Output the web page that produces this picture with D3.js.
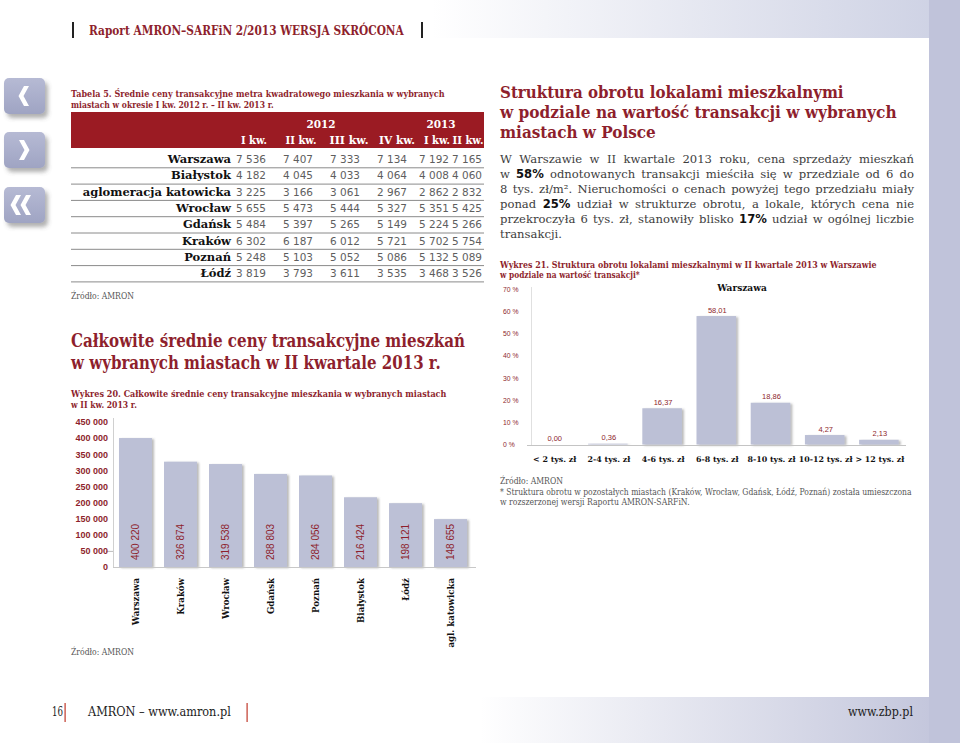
<!DOCTYPE html>
<html><head><meta charset="utf-8">
<script src="https://cdn.jsdelivr.net/npm/d3@7"></script>
<style>html,body{margin:0;padding:0;background:#fff;}svg{display:block;}</style>
</head><body>
<svg id="page" width="960" height="743"></svg>
<script>
// ---------- DATA ----------
const headerTitle = "Raport AMRON–SARFiN 2/2013 WERSJA SKRÓCONA";
const tableTitle = ["Tabela 5. Średnie ceny transakcyjne metra kwadratowego mieszkania w wybranych",
                    "miastach w okresie I kw. 2012 r. – II kw. 2013 r."];
const tableYears = ["2012", "2013"];
const tableQuarters = ["I kw.", "II kw.", "III kw.", "IV kw.", "I kw.", "II kw."];
const tableCities = ["Warszawa", "Białystok", "aglomeracja katowicka", "Wrocław", "Gdańsk", "Kraków", "Poznań", "Łódź"];
const q1_2012 = [7536, 4182, 3225, 5655, 5484, 6302, 5248, 3819];
const q2_2012 = [7407, 4045, 3166, 5473, 5397, 6187, 5103, 3793];
const q3_2012 = [7333, 4033, 3061, 5444, 5265, 6012, 5052, 3611];
const q4_2012 = [7134, 4064, 2967, 5327, 5149, 5721, 5086, 3535];
const q1_2013 = [7192, 4008, 2862, 5351, 5224, 5702, 5132, 3468];
const q2_2013 = [7165, 4060, 2832, 5425, 5266, 5754, 5089, 3526];

const sectionTitle = ["Całkowite średnie ceny transakcyjne mieszkań", "w wybranych miastach w II kwartale 2013 r."];
const chart20Title = ["Wykres 20. Całkowite średnie ceny transakcyjne mieszkania w wybranych miastach", "w II kw. 2013 r."];
const cities20 = ["Warszawa", "Kraków", "Wrocław", "Gdańsk", "Poznań", "Białystok", "Łódź", "agl. katowicka"];
const prices20 = [400220, 326874, 319538, 288803, 284056, 216424, 198121, 148655];
const yTicks20 = [0, 50000, 100000, 150000, 200000, 250000, 300000, 350000, 400000, 450000];

const rightTitle = ["Struktura obrotu lokalami mieszkalnymi", "w podziale na wartość transakcji w wybranych", "miastach w Polsce"];
const paraLines = [
  [["W Warszawie w II kwartale 2013 roku, cena sprzedaży mieszkań", 0]],
  [["w ", 0], ["58%", 1], [" odnotowanych transakcji mieściła się w przedziale od 6 do", 0]],
  [["8 tys. zł/m². Nieruchomości o cenach powyżej tego przedziału miały", 0]],
  [["ponad ", 0], ["25%", 1], [" udział w strukturze obrotu, a lokale, których cena nie", 0]],
  [["przekroczyła 6 tys. zł, stanowiły blisko ", 0], ["17%", 1], [" udział w ogólnej liczbie", 0]],
  [["transakcji.", 0]]
];
const chart21Title = ["Wykres 21. Struktura obrotu lokalami mieszkalnymi w II kwartale 2013 w Warszawie", "w podziale na wartość transakcji*"];
const chart21Series = "Warszawa";
const ranges21 = ["< 2 tys. zł", "2-4 tys. zł", "4-6 tys. zł", "6-8 tys. zł", "8-10 tys. zł", "10-12 tys. zł", "> 12 tys. zł"];
const shares21 = [0.00, 0.36, 16.37, 58.01, 18.86, 4.27, 2.13];
const yTicks21 = [0, 10, 20, 30, 40, 50, 60, 70];
const sourceText = "Źródło: AMRON";
const notes21 = ["* Struktura obrotu w pozostałych miastach (Kraków, Wrocław, Gdańsk, Łódź, Poznań) została umieszczona",
                 "w rozszerzonej wersji Raportu AMRON-SARFiN."];
const footer = ["16", "AMRON – www.amron.pl", "www.zbp.pl"];

// ---------- STYLE ----------
const SERIF = "'DejaVu Serif', serif";
const SANS = "'Liberation Sans', Arial, sans-serif";
const DSANS = "'DejaVu Sans', sans-serif";
const RED = "#8e1f2d";
const BAND = "#9b1b23";
const BAR = "#bcc0d6";
const LAV = "#c0c3da";
const pl = d3.formatLocale({decimal: ",", thousands: " ", grouping: [3], currency: ["", ""]});
const fmtInt = pl.format(",d");
const fmtDec = pl.format(",.2f");

const svg = d3.select("#page");
const defs = svg.append("defs");

const gTop = defs.append("linearGradient").attr("id", "gTop").attr("x1", 0).attr("x2", 1).attr("y1", 0).attr("y2", 0);
gTop.append("stop").attr("offset", "0.45").attr("stop-color", "#ffffff");
gTop.append("stop").attr("offset", "1").attr("stop-color", "#ccd0e3");
const gBot = defs.append("linearGradient").attr("id", "gBot").attr("x1", 0).attr("x2", 1).attr("y1", 0).attr("y2", 0);
gBot.append("stop").attr("offset", "0.5").attr("stop-color", "#ffffff");
gBot.append("stop").attr("offset", "1").attr("stop-color", LAV);
const gBtn = defs.append("linearGradient").attr("id", "gBtn").attr("x1", 0).attr("x2", 0).attr("y1", 0).attr("y2", 1);
gBtn.append("stop").attr("offset", "0").attr("stop-color", "#b6bad4");
gBtn.append("stop").attr("offset", "1").attr("stop-color", "#9fa4c3");

const fBtn = defs.append("filter").attr("id", "shBtn").attr("x", "-30%").attr("y", "-30%").attr("width", "170%").attr("height", "170%");
fBtn.append("feDropShadow").attr("dx", 3).attr("dy", 4).attr("stdDeviation", 2.2).attr("flood-color", "#555").attr("flood-opacity", 0.45);
const fBar = defs.append("filter").attr("id", "shBar").attr("x", "-20%").attr("y", "-10%").attr("width", "140%").attr("height", "130%");
fBar.append("feDropShadow").attr("dx", 2).attr("dy", 1).attr("stdDeviation", 1.2).attr("flood-color", "#666").attr("flood-opacity", 0.45);

// text helper; when a target width is given the text is scaled horizontally to fit it
function txt(g, x, y, s, o) {
  const t = g.append("text").text(s)
    .attr("font-family", o.f || SERIF).attr("font-size", o.s)
    .attr("font-weight", o.w || "normal").attr("fill", o.c || "#000")
    .attr("text-anchor", o.a || "start");
  if (o.len) {
    t.attr("x", 0).attr("y", 0);
    const w = t.node().getComputedTextLength();
    const k = w > 0 ? o.len / w : 1;
    t.attr("transform", `translate(${x},${y}) scale(${k.toFixed(4)},1)`);
  } else {
    t.attr("x", x).attr("y", y);
  }
  return t;
}

// ---------- PAGE BACKGROUND ----------
svg.append("rect").attr("x", 0).attr("y", 0).attr("width", 960).attr("height", 38).attr("fill", "url(#gTop)");
svg.append("rect").attr("x", 0).attr("y", 697).attr("width", 960).attr("height", 46).attr("fill", "url(#gBot)");
svg.append("rect").attr("x", 929).attr("y", 0).attr("width", 31).attr("height", 743).attr("fill", LAV);

// header
svg.append("rect").attr("x", 72).attr("y", 22).attr("width", 2).attr("height", 16).attr("fill", "#222");
svg.append("rect").attr("x", 421).attr("y", 22).attr("width", 2).attr("height", 16).attr("fill", "#222");
txt(svg, 89, 35, headerTitle, {s: 13, w: "bold", c: RED, len: 315});

// side buttons
const btnY = [78, 132, 187];
const chevrons = [
  ["M29,86 L24,86 L18.5,96 L24,106 L29,106 L23.5,96 Z"],
  ["M19,140 L24,140 L29.5,150 L24,160 L19,160 L24.5,150 Z"],
  ["M21,195 L16,195 L10.5,205 L16,215 L21,215 L15.5,205 Z", "M31,195 L26,195 L20.5,205 L26,215 L31,215 L25.5,205 Z"]
];
btnY.forEach((y, i) => {
  svg.append("rect").attr("x", 4).attr("y", y).attr("width", 41).attr("height", 36).attr("rx", 5)
    .attr("fill", "url(#gBtn)").attr("filter", "url(#shBtn)");
  chevrons[i].forEach(p => svg.append("path").attr("d", p).attr("fill", "#fff"));
});

// ---------- TABLE ----------
txt(svg, 71, 97, tableTitle[0], {s: 9.5, w: "bold", c: RED, len: 374});
txt(svg, 71, 107.5, tableTitle[1], {s: 9.5, w: "bold", c: RED, len: 203});
svg.append("rect").attr("x", 71).attr("y", 112).attr("width", 413).attr("height", 36).attr("fill", BAND);
const yearX = [321, 441];
tableYears.forEach((t, i) => txt(svg, yearX[i], 127.5, t, {s: 10.5, w: "bold", c: "#fff", a: "middle"}));
const colX = [251, 298, 345, 392, 434, 467];
const hdrX = [254, 301, 349, 397, 437, 468];
const hdrW = [26, 31, 39, 36, 26, 31];
tableQuarters.forEach((t, i) => txt(svg, hdrX[i], 144, t, {s: 10.5, w: "bold", c: "#fff", a: "middle", len: hdrW[i]}));
const cols = [q1_2012, q2_2012, q3_2012, q4_2012, q1_2013, q2_2013];
const rowScale = d3.scaleBand().domain(tableCities).range([151, 281.4]);
tableCities.forEach((c, r) => {
  const cy = rowScale(c) + rowScale.bandwidth() / 2;
  txt(svg, 231, cy + 4, c, {s: 11.5, w: "bold", c: "#111", a: "end"});
  cols.forEach((arr, j) => txt(svg, colX[j], cy + 4, fmtInt(arr[r]), {s: 10.5, c: "#5e5e5e", a: "middle", f: DSANS, len: 30}));
  svg.append("line").attr("x1", 71).attr("x2", 484)
    .attr("y1", rowScale(c) + rowScale.bandwidth() + 0.5).attr("y2", rowScale(c) + rowScale.bandwidth() + 0.5)
    .attr("stroke", "#8a8a8a").attr("stroke-width", 1);
});
txt(svg, 71, 299, sourceText, {s: 8.5, c: "#555", len: 63});

// ---------- SECTION + CHART 20 ----------
txt(svg, 71, 347, sectionTitle[0], {s: 18, w: "bold", c: RED, len: 394});
txt(svg, 71, 369, sectionTitle[1], {s: 18, w: "bold", c: RED, len: 370});
txt(svg, 71, 396.5, chart20Title[0], {s: 9.5, w: "bold", c: RED, len: 376});
txt(svg, 71, 407.5, chart20Title[1], {s: 9.5, w: "bold", c: RED, len: 66});

const x20 = d3.scaleBand().domain(cities20).range([113, 473]).paddingInner(0.267).paddingOuter(0.133);
const y20 = d3.scaleLinear().domain([0, 450000]).range([567, 422]);
const g20 = svg.append("g");
g20.append("line").attr("x1", 113.5).attr("x2", 113.5).attr("y1", 418).attr("y2", 567).attr("stroke", "#d0d0d0");
g20.append("line").attr("x1", 106).attr("x2", 113).attr("y1", y20(50000) + 0.5).attr("y2", y20(50000) + 0.5).attr("stroke", "#bbb");
yTicks20.forEach(v => txt(g20, 108, y20(v) + 3.3, fmtInt(v), {s: 9, w: "bold", c: RED, a: "end", f: SANS}));
g20.selectAll("rect.bar").data(prices20).join("rect").attr("class", "bar")
  .attr("x", (d, i) => x20(cities20[i])).attr("width", x20.bandwidth())
  .attr("y", d => y20(d)).attr("height", d => y20(0) - y20(d))
  .attr("fill", BAR).attr("filter", "url(#shBar)");
g20.append("line").attr("x1", 113).attr("x2", 476).attr("y1", 567.5).attr("y2", 567.5).attr("stroke", "#c8c8c8");
prices20.forEach((v, i) => {
  const cx = x20(cities20[i]) + x20.bandwidth() / 2;
  g20.append("text").attr("transform", `translate(${cx + 3.6},560) rotate(-90)`)
    .attr("font-family", SANS).attr("font-size", 10).attr("fill", RED).text(fmtInt(v));
  g20.append("text").attr("transform", `translate(${cx + 3.2},578) rotate(-90)`)
    .attr("text-anchor", "end").attr("font-family", SERIF).attr("font-weight", "bold")
    .attr("font-size", 8.6).attr("fill", "#111").text(cities20[i]);
});
txt(svg, 71, 655, sourceText, {s: 8.5, c: "#555", len: 63});

// ---------- RIGHT COLUMN ----------
txt(svg, 500, 98, rightTitle[0], {s: 17, w: "bold", c: RED, len: 344});
txt(svg, 500, 118, rightTitle[1], {s: 17, w: "bold", c: RED, len: 397});
txt(svg, 500, 137.5, rightTitle[2], {s: 17, w: "bold", c: RED, len: 156});

// paragraph (justified)
const paraG = svg.append("g");
const paraNodes = paraLines.map((segs, i) => {
  const t = paraG.append("text").attr("x", 500).attr("y", 162.5 + i * 15.1)
    .attr("font-family", SERIF).attr("fill", "#3d3d3d").attr("xml:space", "preserve");
  segs.forEach(([s, b]) => {
    const ts = t.append("tspan").text(s);
    if (b) ts.attr("font-family", DSANS).attr("font-weight", "bold").attr("fill", "#111");
  });
  return t;
});
let fs = 13.2;
function maxOver() {
  let worst = -1e9;
  paraNodes.forEach((t, i) => {
    if (i === paraNodes.length - 1) return;
    t.attr("font-size", fs).attr("word-spacing", 0);
    const w = t.node().getComputedTextLength();
    const n = (t.text().match(/ /g) || []).length;
    worst = Math.max(worst, w + n * 1.2 - 414);
  });
  return worst;
}
while (maxOver() > 0 && fs > 9) fs -= 0.2;
paraNodes.forEach((t, i) => {
  t.attr("font-size", fs);
  if (i === paraNodes.length - 1) return;
  const w = t.node().getComputedTextLength();
  const n = (t.text().match(/ /g) || []).length;
  t.attr("word-spacing", ((414 - w) / n).toFixed(3));
});

txt(svg, 500, 267.5, chart21Title[0], {s: 9.5, w: "bold", c: RED, len: 377});
txt(svg, 500, 277.5, chart21Title[1], {s: 9.5, w: "bold", c: RED, len: 140});

const x21 = d3.scaleBand().domain(ranges21).range([526.6, 906]).paddingInner(0.27).paddingOuter(0.135);
const y21 = d3.scaleLinear().domain([0, 70]).range([444.5, 289.5]);
const g21 = svg.append("g");
g21.append("line").attr("x1", 531.5).attr("x2", 531.5).attr("y1", 287).attr("y2", 445).attr("stroke", "#e0e0e0");
yTicks21.forEach(v => txt(g21, 503, y21(v) + 2.5, v + " %", {s: 6.8, c: RED, f: SANS}));
txt(g21, 742, 290.5, chart21Series, {s: 9, w: "bold", c: "#111", a: "middle"});
g21.selectAll("rect.bar").data(shares21).join("rect").attr("class", "bar")
  .attr("x", (d, i) => x21(ranges21[i])).attr("width", x21.bandwidth())
  .attr("y", d => y21(d)).attr("height", d => y21(0) - y21(d))
  .attr("fill", BAR).attr("filter", "url(#shBar)");
g21.append("line").attr("x1", 527).attr("x2", 906).attr("y1", 445.5).attr("y2", 445.5).attr("stroke", "#c4c4c4");
shares21.forEach((v, i) => {
  const cx = x21(ranges21[i]) + x21.bandwidth() / 2;
  txt(g21, cx + 1, y21(v) - 3.5, fmtDec(v), {s: 7.5, c: RED, a: "middle", f: SANS});
  txt(g21, cx + 1, 462, ranges21[i], {s: 7.9, w: "bold", c: "#111", a: "middle"});
});

txt(svg, 500, 484, sourceText, {s: 8.5, c: "#555", len: 63});
txt(svg, 500, 494.5, notes21[0], {s: 8.5, c: "#555", len: 412});
txt(svg, 500, 505, notes21[1], {s: 8.5, c: "#555", len: 190});

// ---------- FOOTER ----------
txt(svg, 52, 716, footer[0], {s: 12.5, c: "#222", len: 11});
svg.append("rect").attr("x", 64.5).attr("y", 703).attr("width", 1.2).attr("height", 19).attr("fill", "#c0392b");
txt(svg, 88, 716, footer[1], {s: 12.5, c: "#222", len: 143});
svg.append("rect").attr("x", 246.5).attr("y", 703).attr("width", 1.2).attr("height", 19).attr("fill", "#c0392b");
txt(svg, 913, 716, footer[2], {s: 12.5, c: "#222", a: "end", len: 65});
</script>
</body></html>
